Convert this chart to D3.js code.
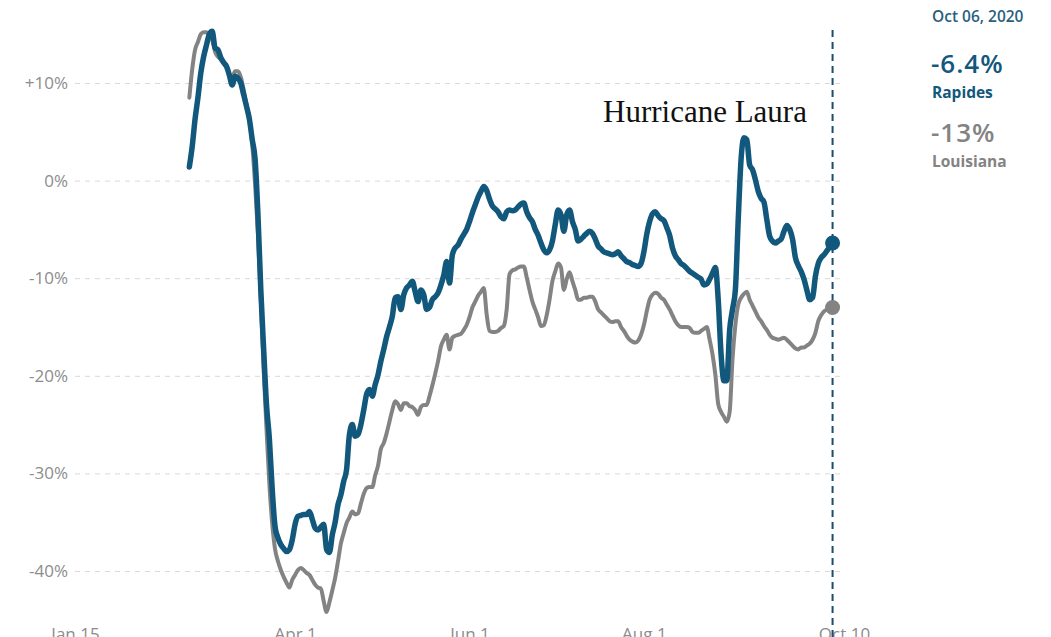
<!DOCTYPE html>
<html><head><meta charset="utf-8">
<script src="https://cdn.jsdelivr.net/npm/d3@7"></script>
<style>
html,body{margin:0;padding:0;background:#fff;}
svg{display:block;}
</style></head>
<body>
<svg id="chart" width="1051" height="637"></svg>
<script>
// ---- data ----
const seriesStart = "2020-02-24";
const seriesEnd = "2020-10-06";
const rapidesValues = [
 1.4, 3.5, 6.3, 8.5, 11.0, 12.7, 13.9, 15.0, 15.3, 13.6, 13.4, 12.6, 12.1, 11.7, 10.8, 9.8, 10.7, 10.5, 10.0, 8.8, 7.6, 6.3, 4.2, 2.2, -3.5,
 -11.2, -17.3, -23.0, -26.5, -31.7, -35.5, -36.6, -37.3, -37.7, -38.0, -37.8, -36.8,
 -35.2, -34.4, -34.3, -34.2, -34.2, -33.9, -34.7, -35.6, -35.8, -35.5,
 -35.2, -37.8, -38.1, -36.3, -35.0, -33.2, -32.2, -30.8, -29.6, -26.0,
 -25.0, -26.2, -26.0, -25.0, -23.5, -21.9, -21.4, -22.1, -20.9, -19.9,
 -18.5, -17.3, -16.0, -15.0, -13.9, -12.0, -11.9, -13.2, -11.7, -11.0,
 -10.7, -10.3, -11.4, -12.4, -11.2, -11.7, -13.2, -13.0, -12.2, -11.9,
 -11.5, -10.7, -9.7, -8.3, -10.5, -7.6, -6.9, -6.6, -6.0, -5.5,
 -5.0, -4.2, -3.3, -2.5, -1.7, -1.1, -0.6,
 -1.0, -1.9, -2.6, -2.9, -3.2, -3.7, -3.9, -3.2, -3.0, -3.1,
 -3.0, -2.7, -2.4, -2.3, -3.2, -3.8, -4.2, -5.0, -5.6, -6.4,
 -7.1, -7.4, -7.1, -6.2, -4.5, -3.0, -3.5, -5.2, -3.5, -3.0,
 -4.2, -5.0, -6.2, -6.0, -5.7, -5.4, -5.2, -5.4, -6.0, -6.7,
 -7.0, -7.3, -7.4, -7.5, -7.6, -7.5, -7.3, -7.7, -8.0, -8.3,
 -8.4, -8.6, -8.7, -8.8,
 -8.5, -7.3, -5.5, -4.2, -3.4, -3.2, -3.6, -3.9, -4.1, -4.8,
 -5.6, -6.9, -7.7, -8.1, -8.5, -8.7, -9.0, -9.3, -9.5, -9.7,
 -9.9, -10.1, -10.7, -10.6, -10.1, -9.5, -8.9, -12.2, -17.8, -20.5,
 -20.5, -15.3, -13.2, -11.2, -4.0, 2.2, 4.4, 4.2, 1.6, 1.1,
 0.1, -1.1, -1.8, -2.2, -4.0, -5.7, -6.2, -6.4, -6.2, -6.0,
 -5.2, -4.6, -5.0, -6.0, -7.9, -8.7, -9.3, -10.1, -11.2, -12.2,
 -12.0, -9.8, -8.5, -7.9, -7.6, -7.2, -6.8, -6.4
];
const louisianaValues = [
 8.5, 11.4, 13.4, 14.2, 15.0, 15.2, 15.2, 14.9, 14.4, 13.2, 12.7, 12.4, 12.0, 11.6, 10.9, 10.6, 11.2, 11.2, 10.6, 9.3, 7.8, 6.3, 3.7, -0.4, -5.5,
 -12.2, -19.4, -25.5, -31.1, -35.2, -37.8, -39.0, -39.9, -40.6, -41.2, -41.7, -40.9,
 -40.4, -39.9, -39.7, -39.9, -40.2, -40.4, -40.9, -41.4, -41.7, -41.8,
 -43.1, -44.2, -43.2, -42.0, -40.7, -39.0, -37.2, -36.1, -35.1, -34.5,
 -33.9, -34.2, -34.1, -33.1, -32.1, -31.5, -31.4, -31.4, -30.2, -29.2,
 -27.5, -26.9, -25.9, -24.7, -23.5, -22.6, -22.9, -23.5, -22.8, -22.8,
 -23.1, -23.2, -23.5, -24.0, -23.2, -23.0, -23.0, -22.1, -21.0, -19.8,
 -18.5, -17.0, -16.3, -15.8, -17.3, -16.1, -15.9, -15.8, -15.7, -15.3,
 -14.8, -14.0, -13.0, -12.4, -11.8, -11.4, -11.0,
 -13.7, -15.4, -15.5, -15.5, -15.4, -15.1, -14.9, -13.2, -9.6, -9.2,
 -9.1, -8.9, -8.8, -8.8, -9.9, -11.2, -12.4, -13.2, -14.0, -14.9,
 -14.8, -13.8, -12.2, -10.3, -9.3, -8.5, -8.9, -11.2, -10.1, -9.4,
 -10.3, -11.2, -12.2, -12.2, -12.0, -12.0, -11.9, -11.9, -12.4, -13.2,
 -13.5, -13.8, -14.1, -14.4, -14.5, -14.4, -14.4, -15.0, -15.4, -15.9,
 -16.3, -16.5, -16.6, -16.4,
 -15.8, -14.8, -13.4, -12.2, -11.7, -11.5, -11.6, -12.0, -12.2, -12.7,
 -13.2, -13.8, -14.4, -14.8, -15.0, -15.0, -15.0, -15.1, -15.5, -15.6,
 -15.6, -15.4, -15.2, -15.0, -16.3, -17.8, -19.9, -22.9, -23.7, -24.2,
 -24.7, -23.7, -18.3, -14.8, -12.7, -12.0, -11.6, -11.4, -12.2, -12.8,
 -13.4, -14.0, -14.4, -14.9, -15.3, -15.8, -16.1, -16.2, -16.3, -16.2,
 -16.1, -16.3, -16.6, -16.9, -17.2, -17.3, -17.1, -17.1, -16.9, -16.7,
 -16.3, -15.6, -14.4, -13.8, -13.4, -13.2, -13.1, -13.0
];
const yTicks = [10, 0, -10, -20, -30, -40];
const yTickLabels = ["+10%", "0%", "-10%", "-20%", "-30%", "-40%"];
const xTickDates = ["2020-01-15", "2020-04-01", "2020-06-01", "2020-08-01", "2020-10-10"];
const xTickLabels = ["Jan 15", "Apr 1", "Jun 1", "Aug 1", "Oct 10"];
const xDomain = ["2020-01-15", "2020-10-10"];
const seriesNames = ["Rapides", "Louisiana"];
const legendValueLabels = ["-6.4%", "-13%"];
const legendDate = "Oct 06, 2020";
const annotation = "Hurricane Laura";

// ---- chart ----
const parse = d3.timeParse("%Y-%m-%d");
const svg = d3.select("#chart");
const BLUE = "#11587c", GRAY = "#838383";

const x = d3.scaleTime().domain(xDomain.map(parse)).range([75, 844]);
const y = d3.scaleLinear().domain([-40, 10]).range([571, 83]);

const dates = d3.timeDays(parse(seriesStart), d3.timeDay.offset(parse(seriesEnd), 1));
const rap = dates.map((d, i) => ({date: d, v: rapidesValues[i]}));
const lou = dates.map((d, i) => ({date: d, v: louisianaValues[i]}));

// y axis + grid
const yAxis = d3.axisLeft(y).tickValues(yTicks)
  .tickFormat((d, i) => yTickLabels[i]).tickSize(-(844 - 75)).tickPadding(7);
const gy = svg.append("g").attr("transform", "translate(75,0)").call(yAxis);
gy.select(".domain").remove();
gy.selectAll(".tick line").attr("stroke", "#d9d9d9").attr("stroke-dasharray", "5,5").attr("stroke-width", 1);
gy.selectAll(".tick text").attr("fill", "#8c8c8c").style("font-family", "'Open Sans', sans-serif").style("font-size", "17px");

// x axis
const xAxis = d3.axisBottom(x).tickValues(xTickDates.map(parse))
  .tickFormat((d, i) => xTickLabels[i]).tickSize(0).tickPadding(0);
const gx = svg.append("g").attr("transform", "translate(0,628)").call(xAxis);
gx.select(".domain").remove();
gx.selectAll(".tick text").attr("fill", "#8c8c8c").attr("dy", "0.71em").style("font-family", "'Open Sans', sans-serif").style("font-size", "17px");

// vertical dashed marker
const endDate = parse(seriesEnd);
svg.append("line")
  .attr("x1", x(endDate)).attr("x2", x(endDate))
  .attr("y1", 30).attr("y2", 637)
  .attr("stroke", "#1d4d6b").attr("stroke-width", 2).attr("stroke-dasharray", "7,5");

const line = d3.line().x(d => x(d.date)).y(d => y(d.v)).curve(d3.curveMonotoneX);

svg.append("path").datum(lou).attr("d", line)
  .attr("fill", "none").attr("stroke", GRAY).attr("stroke-width", 4)
  .attr("stroke-linejoin", "round").attr("stroke-linecap", "round");
svg.append("path").datum(rap).attr("d", line)
  .attr("fill", "none").attr("stroke", BLUE).attr("stroke-width", 5.5)
  .attr("stroke-linejoin", "round").attr("stroke-linecap", "round");

svg.append("circle").attr("cx", x(endDate)).attr("cy", y(rapidesValues[rapidesValues.length - 1])).attr("r", 7.5).attr("fill", BLUE);
svg.append("circle").attr("cx", x(endDate)).attr("cy", y(louisianaValues[louisianaValues.length - 1])).attr("r", 7.5).attr("fill", GRAY);

// annotation
svg.append("text").attr("x", 603).attr("y", 122).text(annotation)
  .style("font-family", "'Liberation Serif', 'Times New Roman', serif").style("font-size", "31px").attr("fill", "#111");

// legend
const lg = svg.append("g").style("font-family", "'Open Sans', sans-serif");
lg.append("text").attr("x", 932).attr("y", 22).text(legendDate)
  .attr("fill", "#2b5f7f").style("font-size", "15.5px").style("font-weight", 600);
lg.append("text").attr("x", 931).attr("y", 73).text(legendValueLabels[0])
  .attr("fill", BLUE).style("font-size", "26px").style("font-weight", 600).style("letter-spacing", "1px");
lg.append("text").attr("x", 932).attr("y", 98).text(seriesNames[0])
  .attr("fill", BLUE).style("font-size", "15.5px").style("font-weight", 700);
lg.append("text").attr("x", 931).attr("y", 142).text(legendValueLabels[1])
  .attr("fill", GRAY).style("font-size", "26px").style("font-weight", 600).style("letter-spacing", "1px");
lg.append("text").attr("x", 932).attr("y", 167).text(seriesNames[1])
  .attr("fill", GRAY).style("font-size", "15.5px").style("font-weight", 700);
</script>
</body></html>
